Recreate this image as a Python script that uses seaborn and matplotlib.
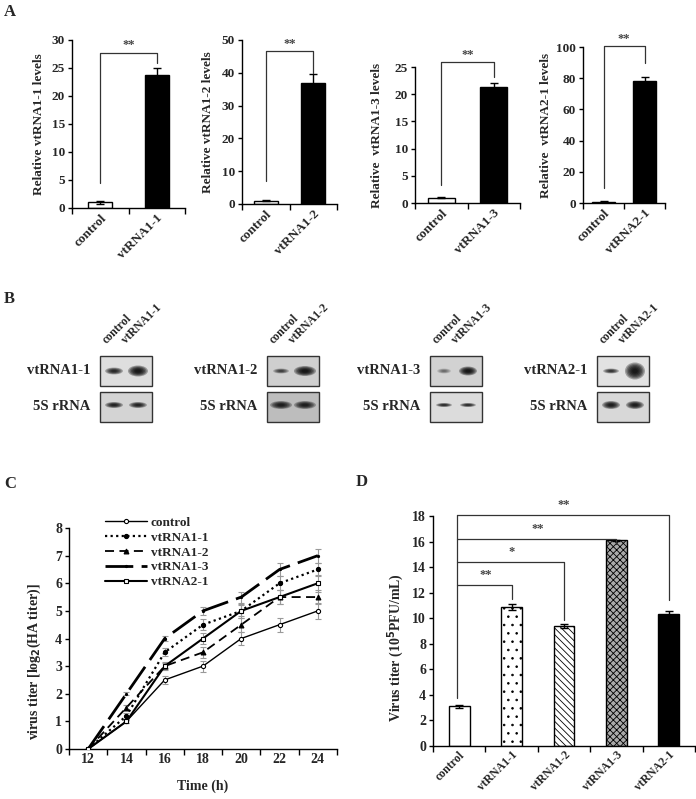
import numpy as np
import matplotlib
matplotlib.use("Agg")
import matplotlib.pyplot as plt
import seaborn as sns
from matplotlib.patches import Rectangle, Ellipse
from matplotlib.ticker import FixedLocator

# ---------------- data ----------------
# Panel A: relative levels after overexpression
a_targets = ["vtRNA1-1", "vtRNA1-2", "vtRNA1-3", "vtRNA2-1"]
a_ylabels = ["Relative vtRNA1-1 levels", "Relative vtRNA1-2 levels",
             "Relative  vtRNA1-3 levels", "Relative  vtRNA2-1 levels"]
a_ctrl = [1.0, 1.0, 1.0, 0.8]
a_ctrl_err = [0.2, 0.1, 0.1, 0.2]
a_over = [23.7, 36.8, 21.3, 78.0]
a_over_err = [1.3, 2.8, 0.8, 2.8]
a_ymax = [30, 50, 25, 100]
a_ystep = [5, 10, 5, 20]
a_sig = ["**", "**", "**", "**"]

# Panel B: northern blot band strengths (0-1)
b_ctrl_band = [0.8, 0.6, 0.35, 0.7]
b_over_band = [1.0, 1.0, 1.0, 1.0]
b_5s_band = [0.85, 0.85, 0.8, 0.9]

# Panel C: growth curves
c_time = [12, 14, 16, 18, 20, 22, 24]
c_series = ["control", "vtRNA1-1", "vtRNA1-2", "vtRNA1-3", "vtRNA2-1"]
c_control = [0, 1.0, 2.5, 3.0, 4.0, 4.5, 5.0]
c_vt11 = [0, 1.2, 3.5, 4.5, 5.0, 6.0, 6.5]
c_vt12 = [0, 1.5, 3.0, 3.5, 4.5, 5.5, 5.5]
c_vt13 = [0, 2.0, 4.0, 5.0, 5.5, 6.5, 7.0]
c_vt21 = [0, 1.0, 3.0, 4.0, 5.0, 5.5, 6.0]
c_control_err = [0, 0.05, 0.15, 0.2, 0.25, 0.25, 0.3]
c_vt11_err = [0, 0.1, 0.15, 0.2, 0.25, 0.25, 0.25]
c_vt12_err = [0, 0.1, 0.15, 0.2, 0.25, 0.25, 0.25]
c_vt13_err = [0, 0.05, 0.1, 0.15, 0.2, 0.25, 0.25]
c_vt21_err = [0, 0.05, 0.1, 0.2, 0.2, 0.25, 0.3]

# Panel D: virus titer
d_cats = ["control", "vtRNA1-1", "vtRNA1-2", "vtRNA1-3", "vtRNA2-1"]
d_vals = [3.1, 10.9, 9.4, 16.1, 10.35]
d_errs = [0.1, 0.25, 0.15, 0.06, 0.2]
d_sig = ["**", "*", "**", "**"]

# ---------------- style ----------------
sns.set_theme(style="ticks")
plt.rcParams["font.family"] = ["Liberation Serif", "DejaVu Serif"]
plt.rcParams["font.weight"] = "bold"
plt.rcParams["axes.labelweight"] = "bold"
plt.rcParams["hatch.linewidth"] = 0.6
plt.rcParams["axes.linewidth"] = 1.0

W, H = 696, 799
fig = plt.figure(figsize=(W / 100, H / 100), dpi=100)


def px_rect(x0, y0, x1, y1):
    return [x0 / W, 1 - y1 / H, (x1 - x0) / W, (y1 - y0) / H]


def style_axes(ax, fs):
    sns.despine(ax=ax)
    for s in ["left", "bottom"]:
        ax.spines[s].set_color("black")
        ax.spines[s].set_linewidth(1)
    ax.tick_params(axis="y", direction="out", length=3, width=1, labelsize=fs,
                   color="black", pad=2, left=True)
    ax.tick_params(axis="x", which="major", length=0, labelsize=fs, pad=3)
    ax.tick_params(axis="x", which="minor", direction="out", length=4, width=1,
                   color="black", bottom=True)
    for lab in ax.get_xticklabels() + ax.get_yticklabels():
        lab.set_fontweight("bold")


# overlay axes in pixel coordinates for panel letters and blots
ov = fig.add_axes([0, 0, 1, 1])
ov.set_xlim(0, W)
ov.set_ylim(H, 0)
ov.axis("off")

for letter, (x, y) in zip("ABCD", [(4, 4), (4, 291), (4, 476), (356, 474)]):
    ov.text(x, y, letter, fontsize=12, fontweight="bold", ha="left", va="top")

# ---------------- panel A ----------------
a_boxes = [(72, 40, 185, 208), (242, 40, 337, 204), (415, 67, 520, 203), (583, 47, 665, 203)]
a_bar_width = [0.42, 0.5, 0.51, 0.56]
a_label_x = [45, 214, 383, 552]
a_brk = [(4.5, 27.7, 25.9), (7.0, 46.5, 40.0), (3.3, 25.9, 23.2), (9.6, 100.6, 90.0)]

for i, t in enumerate(a_targets):
    ax = fig.add_axes(px_rect(*a_boxes[i]))
    cats = ["control", t]
    vals = [a_ctrl[i], a_over[i]]
    sns.barplot(x=cats, y=vals, hue=cats, palette=["white", "black"], edgecolor="black",
                linewidth=1, width=a_bar_width[i], legend=False, saturation=1, ax=ax)
    ax.errorbar([0, 1], vals, yerr=[a_ctrl_err[i], a_over_err[i]], fmt="none",
                ecolor="black", elinewidth=1, capsize=3, capthick=1)
    ax.set_xlim(-0.5, 1.5)
    ax.set_ylim(0, a_ymax[i])
    ax.set_yticks(np.arange(0, a_ymax[i] + 1, a_ystep[i]))
    ax.set_xticks([0, 1])
    ax.set_xticklabels(cats, rotation=45, ha="right", rotation_mode="anchor")
    ax.xaxis.set_minor_locator(FixedLocator([-0.5, 0.5, 1.5]))
    ax.set_xlabel("")
    ax.set_ylabel(a_ylabels[i], fontsize=9.5)
    style_axes(ax, 9.5)
    yc = (a_boxes[i][1] + a_boxes[i][3]) / 2
    ax.yaxis.set_label_coords(a_label_x[i] / W, 1 - yc / H, transform=fig.transFigure)
    low, top, end = a_brk[i]
    ax.plot([0, 0, 1, 1], [low, top, top, end], color="#333333", lw=0.9, clip_on=False)
    ax.text(0.5, top + 0.01 * a_ymax[i], a_sig[i], ha="center", va="bottom",
            fontsize=9, color="#444444")

# ---------------- panel B ----------------
b_x = [100, 267, 430, 597]
b_bg_top = ["#dedede", "#cfcfcf", "#d2d2d2", "#e2e2e2"]
b_bg_bot = ["#d4d4d4", "#bdbdbd", "#dcdcdc", "#d8d8d8"]
b_size_ctrl = [(18, 7), (16, 5), (14, 5), (16, 5)]
b_size_over = [(20, 11), (22, 10), (18, 9), (20, 17)]
b_size_5s = [(18, 6), (22, 8), (16, 4), (18, 8)]
bw = 52


def band(cx, cy, w, h, strength):
    for k in range(6):
        f = 1 - k / 7
        ov.add_patch(Ellipse((cx, cy), w * f, h * f, color="black",
                             alpha=min(1, strength * 0.3), lw=0))


for i, t in enumerate(a_targets):
    x0 = b_x[i]
    ov.add_patch(Rectangle((x0, 356), bw, 30, facecolor=b_bg_top[i], edgecolor="#333333", lw=1))
    ov.add_patch(Rectangle((x0, 392), bw, 30, facecolor=b_bg_bot[i], edgecolor="#333333", lw=1))
    band(x0 + 0.27 * bw, 371, *b_size_ctrl[i], b_ctrl_band[i])
    band(x0 + 0.73 * bw, 371, *b_size_over[i], b_over_band[i])
    band(x0 + 0.27 * bw, 405, *b_size_5s[i], b_5s_band[i])
    band(x0 + 0.73 * bw, 405, *b_size_5s[i], b_5s_band[i])
    ov.text(x0 - 10, 371, t, ha="right", va="center", fontsize=10.5, fontweight="bold")
    ov.text(x0 - 10, 407, "5S rRNA", ha="right", va="center", fontsize=10.5, fontweight="bold")
    ov.text(x0 + 9, 346, "control", rotation=45, rotation_mode="anchor",
            ha="left", va="bottom", fontsize=8.5, fontweight="bold")
    ov.text(x0 + 28, 346, t, rotation=45, rotation_mode="anchor",
            ha="left", va="bottom", fontsize=8.5, fontweight="bold")

# ---------------- panel C ----------------
axc = fig.add_axes(px_rect(69, 528, 337, 749))
c_vals = [c_control, c_vt11, c_vt12, c_vt13, c_vt21]
c_errs = [c_control_err, c_vt11_err, c_vt12_err, c_vt13_err, c_vt21_err]
c_ls = ["-", (0, (1, 1.5)), (0, (5, 3)), (0, (10, 3)), "-"]
c_lw = [1.0, 1.6, 1.3, 2.0, 1.5]
c_marker = ["o", "o", "^", ".", "s"]
c_mfc = ["white", "black", "black", "black", "white"]
c_ms = [3, 3, 3.5, 3, 3.5]

for j, name in enumerate(c_series):
    axc.errorbar(c_time, c_vals[j], yerr=c_errs[j], fmt="none", ecolor="#999999",
                 elinewidth=0.8, capsize=2.5, capthick=0.8, zorder=1)
for j, name in enumerate(c_series):
    sns.lineplot(x=c_time, y=c_vals[j], ax=axc, color="black", linestyle=c_ls[j],
                 linewidth=c_lw[j], marker=c_marker[j], markersize=c_ms[j],
                 markerfacecolor=c_mfc[j], markeredgecolor="black", markeredgewidth=0.8,
                 label=name, zorder=3)
axc.set_xlim(11, 25)
axc.set_ylim(0, 8)
axc.set_xticks(c_time)
axc.xaxis.set_minor_locator(FixedLocator(np.arange(11, 26, 2)))
axc.set_yticks(range(0, 9))
axc.set_xlabel("Time (h)", fontsize=10)
axc.set_ylabel("virus titer [log$_2$(HA titer)]", fontsize=10)
style_axes(axc, 10)
axc.yaxis.set_label_coords(43 / W, 1 - 662 / H, transform=fig.transFigure)
axc.xaxis.set_label_coords(203 / W, 1 - 780 / H, transform=fig.transFigure)
leg = axc.legend(loc="upper left", bbox_to_anchor=(98 / W, 1 - 510 / H),
                 bbox_transform=fig.transFigure, frameon=False, fontsize=9.5,
                 handlelength=3.2, handletextpad=0.3, labelspacing=0.2, borderpad=0)
for txt in leg.get_texts():
    txt.set_fontweight("bold")

# ---------------- panel D ----------------
axd = fig.add_axes(px_rect(433, 516, 695, 746))
d_face = ["white", "white", "white", "#aaaaaa", "black"]
d_hatch = ["", "..", "\\\\\\\\\\", "xxxxx", ""]
sns.barplot(x=d_cats, y=d_vals, hue=d_cats, palette=d_face, edgecolor="black",
            linewidth=1, width=0.4, legend=False, saturation=1, ax=axd)
for p, h in zip(axd.patches, d_hatch):
    p.set_hatch(h)
axd.errorbar(range(len(d_cats)), d_vals, yerr=d_errs, fmt="none", ecolor="black",
             elinewidth=1, capsize=3, capthick=1)
axd.set_xlim(-0.5, 4.5)
axd.set_ylim(0, 18)
axd.set_yticks(range(0, 19, 2))
axd.set_xticks(range(len(d_cats)))
axd.set_xticklabels(d_cats, rotation=45, ha="right", rotation_mode="anchor")
axd.xaxis.set_minor_locator(FixedLocator(np.arange(-0.5, 5, 1)))
axd.set_xlabel("")
axd.set_ylabel("Virus titer (10$^5$PFU/mL)", fontsize=10)
style_axes(axd, 10)
axd.tick_params(axis="x", which="major", labelsize=8.5, pad=2)
axd.yaxis.set_label_coords(406 / W, 1 - 648 / H, transform=fig.transFigure)

d_top = [12.6, 14.4, 16.2, 18.05]
d_end = [11.5, 9.9, 15.8, 11.4]
axd.plot([-0.05, -0.05], [3.75, d_top[-1]], color="#333333", lw=0.9, clip_on=False)
for k in range(4):
    xe = k + 1
    axd.plot([-0.05, xe, xe], [d_top[k], d_top[k], d_end[k]], color="#333333", lw=0.9,
             clip_on=False)
    axd.text(xe / 2, d_top[k] + 0.35, d_sig[k], ha="center", va="bottom", fontsize=9,
             color="#444444")

fig.savefig("out.png", dpi=100)
